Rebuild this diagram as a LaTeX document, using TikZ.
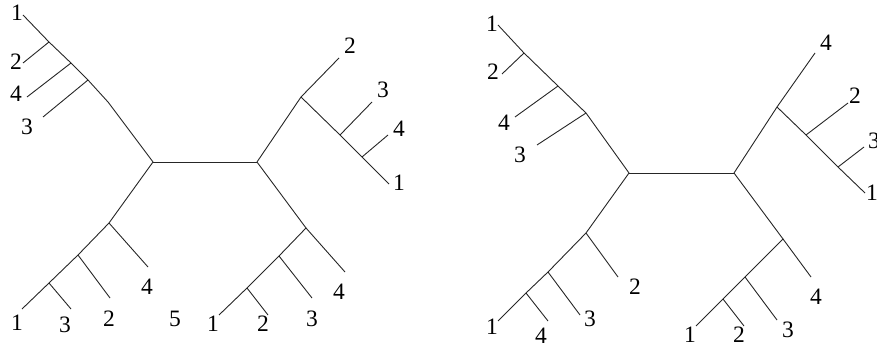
\documentclass[tikz,border=0pt]{standalone}
\usepackage{fontspec}
\setmainfont{Liberation Serif}
\begin{document}
\begin{tikzpicture}[x=1pt,y=-1pt,
  edge/.style={line width=0.9pt,draw=black!85},
  lab/.style={inner sep=0pt,font=\fontsize{23.5}{24}\selectfont}]
\useasboundingbox (0,0) rectangle (877,350);
\clip (0,0) rectangle (877,350);
% ---------- left tree ----------
\coordinate (Lc1) at (153,162);
\coordinate (Lc2) at (257,162);
% upper-left
\coordinate (Lb) at (108,102);
\coordinate (Lj3) at (88,80);
\coordinate (Lj4) at (71,63);
\coordinate (Lj2) at (49,42);
\coordinate (Ll1) at (23,15);
\coordinate (Ll2) at (23,63);
\coordinate (Ll4) at (27,97);
\coordinate (Ll3) at (43,117);
% lower-left
\coordinate (Lm4) at (109,223);
\coordinate (Lm2) at (78,255);
\coordinate (Lm3) at (49,283);
\coordinate (Ln1) at (22,309);
\coordinate (Ln3) at (71,309);
\coordinate (Ln2) at (110,298);
\coordinate (Ln4) at (148,267);
% upper-right
\coordinate (Lu) at (301,97);
\coordinate (Lu3) at (340,135);
\coordinate (Lu4) at (362,157);
\coordinate (Lv2) at (339,58);
\coordinate (Lv3) at (372,102);
\coordinate (Lv4) at (388,135);
\coordinate (Lv1) at (389,184);
% lower-right
\coordinate (Lr4) at (306,228);
\coordinate (Lr3) at (279,256);
\coordinate (Lr2) at (247,288);
\coordinate (Ls1) at (219,315);
\coordinate (Ls2) at (268,315);
\coordinate (Ls3) at (312,298);
\coordinate (Ls4) at (345,272);

\draw[edge] (Lc1) -- (Lc2);
\draw[edge] (Lc1) -- (Lb) -- (Lj3) -- (Lj4) -- (Lj2) -- (Ll1);
\draw[edge] (Lj2) -- (Ll2);
\draw[edge] (Lj4) -- (Ll4);
\draw[edge] (Lj3) -- (Ll3);
\draw[edge] (Lc1) -- (Lm4) -- (Lm2) -- (Lm3) -- (Ln1);
\draw[edge] (Lm3) -- (Ln3);
\draw[edge] (Lm2) -- (Ln2);
\draw[edge] (Lm4) -- (Ln4);
\draw[edge] (Lc2) -- (Lu) -- (Lv2);
\draw[edge] (Lu) -- (Lu3) -- (Lu4) -- (Lv1);
\draw[edge] (Lu3) -- (Lv3);
\draw[edge] (Lu4) -- (Lv4);
\draw[edge] (Lc2) -- (Lr4) -- (Lr3) -- (Lr2) -- (Ls1);
\draw[edge] (Lr2) -- (Ls2);
\draw[edge] (Lr3) -- (Ls3);
\draw[edge] (Lr4) -- (Ls4);

\node[lab] (La1) at (17,13) {1};
\node[lab] (La2) at (16,62) {2};
\node[lab] (La4) at (16,94) {4};
\node[lab] (La3) at (27,127) {3};
\node[lab] (Lb1) at (17,323) {1};
\node[lab] (Lb3) at (65,325) {3};
\node[lab] (Lb2) at (109,319) {2};
\node[lab] (Lb4) at (147,287) {4};
\node[lab] (Lb5) at (175,319) {5};
\node[lab] (Ld1) at (213,324) {1};
\node[lab] (Ld2) at (263,324) {2};
\node[lab] (Ld3) at (312,319) {3};
\node[lab] (Ld4) at (339,292) {4};
\node[lab] (Le2) at (350,46) {2};
\node[lab] (Le3) at (383,90) {3};
\node[lab] (Le4) at (399,129) {4};
\node[lab] (Le1) at (399,183) {1};

% ---------- right tree ----------
\coordinate (Rc1) at (629,173);
\coordinate (Rc2) at (734,173);
% upper-left
\coordinate (Rj3) at (586,113);
\coordinate (Rj4) at (558,86);
\coordinate (Rj2) at (524,53);
\coordinate (Rl1) at (498,25);
\coordinate (Rl2) at (502,74);
\coordinate (Rl4) at (515,117);
\coordinate (Rl3) at (537,145);
% lower-left
\coordinate (Rm2) at (586,233);
\coordinate (Rm3) at (548,272);
\coordinate (Rm4) at (526,293);
\coordinate (Rn1) at (498,321);
\coordinate (Rn4) at (548,321);
\coordinate (Rn3) at (580,315);
\coordinate (Rn2) at (618,277);
% upper-right
\coordinate (Ru) at (777,107);
\coordinate (Ru2) at (806,135);
\coordinate (Ru3) at (838,167);
\coordinate (Rv4) at (815,53);
\coordinate (Rv2) at (848,103);
\coordinate (Rv3) at (864,147);
\coordinate (Rv1) at (865,193);
% lower-right
\coordinate (Rr4) at (783,239);
\coordinate (Rr3) at (745,277);
\coordinate (Rr2) at (723,299);
\coordinate (Rs1) at (696,326);
\coordinate (Rs2) at (744,326);
\coordinate (Rs3) at (777,320);
\coordinate (Rs4) at (811,277);

\draw[edge] (Rc1) -- (Rc2);
\draw[edge] (Rc1) -- (Rj3) -- (Rj4) -- (Rj2) -- (Rl1);
\draw[edge] (Rj2) -- (Rl2);
\draw[edge] (Rj4) -- (Rl4);
\draw[edge] (Rj3) -- (Rl3);
\draw[edge] (Rc1) -- (Rm2) -- (Rm3) -- (Rm4) -- (Rn1);
\draw[edge] (Rm4) -- (Rn4);
\draw[edge] (Rm3) -- (Rn3);
\draw[edge] (Rm2) -- (Rn2);
\draw[edge] (Rc2) -- (Ru) -- (Rv4);
\draw[edge] (Ru) -- (Ru2) -- (Ru3) -- (Rv1);
\draw[edge] (Ru2) -- (Rv2);
\draw[edge] (Ru3) -- (Rv3);
\draw[edge] (Rc2) -- (Rr4) -- (Rr3) -- (Rr2) -- (Rs1);
\draw[edge] (Rr2) -- (Rs2);
\draw[edge] (Rr3) -- (Rs3);
\draw[edge] (Rr4) -- (Rs4);

\node[lab] (Ra1) at (492,24) {1};
\node[lab] (Ra2) at (493,72) {2};
\node[lab] (Ra4) at (504,123) {4};
\node[lab] (Ra3) at (520,155) {3};
\node[lab] (Rb1) at (492,327) {1};
\node[lab] (Rb4) at (541,336) {4};
\node[lab] (Rb3) at (590,319) {3};
\node[lab] (Rb2) at (635,287) {2};
\node[lab] (Rd1) at (690,335) {1};
\node[lab] (Rd2) at (739,335) {2};
\node[lab] (Rd3) at (788,330) {3};
\node[lab] (Rd4) at (816,297) {4};
\node[lab] (Re4) at (826,43) {4};
\node[lab] (Re2) at (855,96) {2};
\node[lab] (Re3) at (874,141) {3};
\node[lab] (Re1) at (872,193) {1};
\end{tikzpicture}
\end{document}
